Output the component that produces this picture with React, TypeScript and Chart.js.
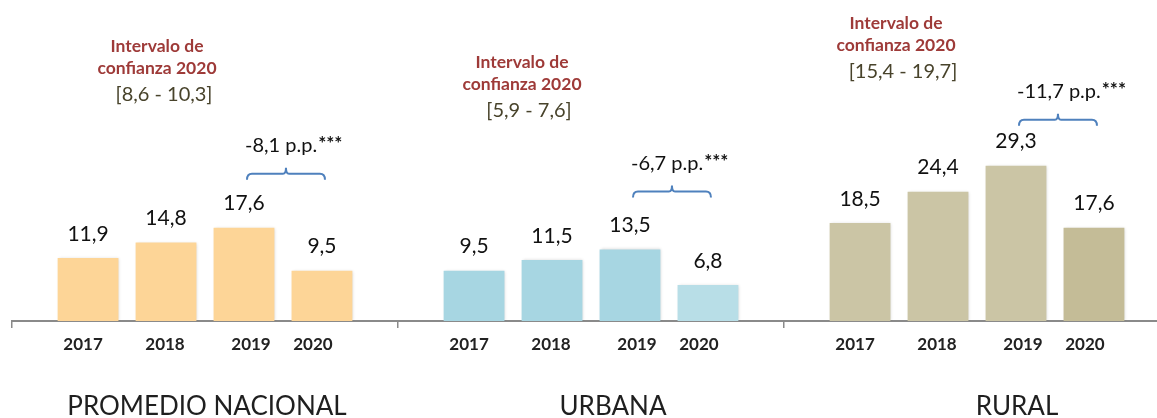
import React, { useEffect, useRef } from "react";
import { Chart, registerables } from "chart.js";

Chart.register(...registerables);

const groups = ["PROMEDIO NACIONAL", "URBANA", "RURAL"];
const years = ["2017", "2018", "2019", "2020"];
const values2017 = [11.9, 9.5, 18.5];
const values2018 = [14.8, 11.5, 24.4];
const values2019 = [17.6, 13.5, 29.3];
const values2020 = [9.5, 6.8, 17.6];
const intervals2020 = ["[8,6 - 10,3]", "[5,9 - 7,6]", "[15,4 - 19,7]"];
const changes = ["-8,1", "-6,7", "-11,7"];
const groupColors = ["#FDD597", "#A7D6E2", "#CBC5A5"];
const groupColors2020 = ["#FDD597", "#B8DEE7", "#C4BC97"];

const seriesValues = [values2017, values2018, values2019, values2020];

const fmt = (v: number) => v.toFixed(1).replace(".", ",");

const FONT = "Lato, 'Open Sans', sans-serif";

const shadowPlugin = {
  id: "barShadow",
  beforeDatasetsDraw(chart: any) {
    const ctx = chart.ctx;
    ctx.save();
    ctx.shadowColor = "rgba(0,0,0,0.18)";
    ctx.shadowBlur = 3;
    ctx.shadowOffsetX = 1;
    ctx.shadowOffsetY = 0;
  },
  afterDatasetsDraw(chart: any) {
    chart.ctx.restore();
  },
};

const labelsPlugin = {
  id: "customLabels",
  afterDraw(chart: any) {
    const ctx = chart.ctx as CanvasRenderingContext2D;
    const xScale = chart.scales.x;
    const yearOffsets = [-5, -1, 7, -9];
    const titleOffsets = [2, 22, 40];
    const annoLayout = [
      { dx: -48, y: 46 },
      { dx: -69, y: 62 },
      { dx: -81, y: 23 },
    ];
    const bracketLift = [54, 58, 46];
    ctx.save();
    ctx.textAlign = "center";
    ctx.textBaseline = "middle";

    chart.data.datasets.forEach((ds: any, i: number) => {
      const meta = chart.getDatasetMeta(i);
      meta.data.forEach((bar: any, j: number) => {
        ctx.fillStyle = "#111";
        ctx.font = `21px ${FONT}`;
        ctx.fillText(fmt(ds.data[j]), bar.x, bar.y - 24);
        ctx.fillStyle = "#222";
        ctx.font = `bold 17px ${FONT}`;
        ctx.fillText(years[i], bar.x + yearOffsets[i], 345);
      });
    });

    groups.forEach((g, j) => {
      const cx = xScale.getPixelForValue(j);
      ctx.fillStyle = "#1f1f1f";
      ctx.font = `26px ${FONT}`;
      ctx.fillText(g, cx + titleOffsets[j], 407);

      const a = annoLayout[j];
      ctx.fillStyle = "#9E3A38";
      ctx.font = `bold 17.5px ${FONT}`;
      ctx.fillText("Intervalo de", cx + a.dx, a.y);
      ctx.fillText("confianza 2020", cx + a.dx, a.y + 22);
      ctx.fillStyle = "#48432B";
      ctx.font = `20px ${FONT}`;
      ctx.fillText(intervals2020[j], cx + a.dx + 7, a.y + 49);

      const b3 = chart.getDatasetMeta(2).data[j];
      const b4 = chart.getDatasetMeta(3).data[j];
      const x1 = b3.x + 3;
      const x2 = b4.x + 3;
      const by = b3.y - bracketLift[j];
      const xm = (x1 + x2) / 2;
      ctx.strokeStyle = "#4F81BD";
      ctx.lineWidth = 2;
      ctx.beginPath();
      ctx.moveTo(x1, by + 6);
      ctx.quadraticCurveTo(x1, by, x1 + 5, by);
      ctx.lineTo(xm - 3, by);
      ctx.quadraticCurveTo(xm, by, xm, by - 6);
      ctx.quadraticCurveTo(xm, by, xm + 3, by);
      ctx.lineTo(x2 - 5, by);
      ctx.quadraticCurveTo(x2, by, x2, by + 6);
      ctx.stroke();

      const ty = by - 28;
      ctx.textAlign = "left";
      ctx.fillStyle = "#111";
      ctx.font = `20px ${FONT}`;
      const main = `${changes[j]} p.p.`;
      const tx = x1 - 2;
      ctx.fillText(main, tx, ty);
      const w = ctx.measureText(main).width;
      ctx.font = `bold 19px ${FONT}`;
      ctx.fillText("***", tx + w + 1, ty - 2);
      ctx.textAlign = "center";
    });
    ctx.restore();
  },
};

export default function App() {
  const ref = useRef<HTMLCanvasElement | null>(null);
  useEffect(() => {
    if (!ref.current) return;
    const chart = new Chart(ref.current, {
      type: "bar",
      data: {
        labels: groups,
        datasets: seriesValues.map((vals, i) => ({
          label: years[i],
          data: vals,
          backgroundColor: i === 3 ? groupColors2020 : groupColors,
          borderWidth: 0,
          categoryPercentage: 0.808,
          barPercentage: 0.78,
        })),
      },
      options: {
        animation: false,
        responsive: false,
        devicePixelRatio: 1,
        layout: { padding: { left: 12, top: 3, right: 0, bottom: 0 } },
        plugins: {
          legend: { display: false },
          tooltip: { enabled: false },
        },
        scales: {
          x: {
            type: "category",
            offset: true,
            grid: {
              display: true,
              offset: true,
              drawOnChartArea: false,
              drawTicks: true,
              tickLength: 7,
              color: "#8A8A8A",
              lineWidth: 1.5,
            },
            border: { display: true, color: "#8A8A8A", width: 2 },
            ticks: { display: false },
            afterFit: (scale: any) => {
              scale.height = 97;
            },
          },
          y: { display: false, min: 0, max: 60 },
        },
      },
      plugins: [shadowPlugin, labelsPlugin],
    });
    return () => chart.destroy();
  }, []);
  return (
    <div
      style={{
        position: "fixed",
        left: 0,
        top: 0,
        width: 1157,
        height: 418,
        overflow: "hidden",
        background: "#fff",
      }}
    >
      <canvas ref={ref} width={1170} height={418} style={{ display: "block" }} />
    </div>
  );
}
